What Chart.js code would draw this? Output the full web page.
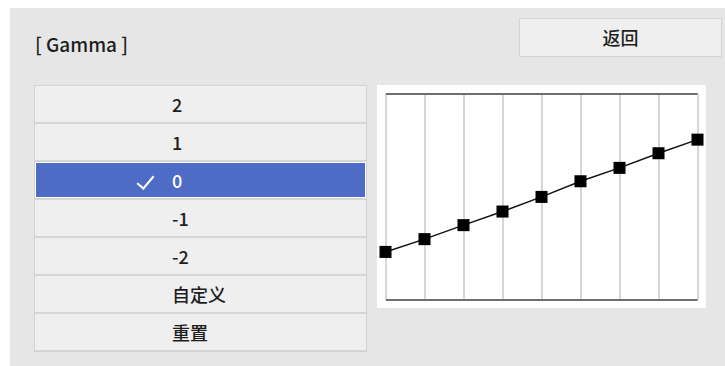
<!DOCTYPE html>
<html>
<head>
<meta charset="utf-8">
<script src="https://cdn.jsdelivr.net/npm/chart.js@4"></script>
<style>
  body { margin: 0; width: 725px; height: 366px; background: #fff; overflow: hidden;
         font-family: "Noto Sans CJK SC", "Noto Sans", sans-serif; color: #1e1e1e; }
  #panel { position: absolute; left: 10px; top: 8px; width: 715px; height: 358px; background: #e6e6e6; }
  #title { position: absolute; left: 35px; top: 31px; font-size: 19px; line-height: 26px; font-weight: 500; }
  #back { position: absolute; left: 519px; top: 18px; width: 201px; height: 37px; background: #efefef;
          border: 1px solid #d4d4d4; font-size: 18px; line-height: 37px; text-align: center; font-weight: 500; }
  #list { position: absolute; left: 34px; top: 85px; width: 331px; height: 265px; background: #d6d6d6;
          border: 1px solid #d2d2d2; }
  .row { position: absolute; left: 0; width: 331px; height: 36px; background: #efefef;
         font-size: 18px; line-height: 36px; font-weight: 500; }
  .row span { position: absolute; left: 137px; }
  .row.sel { background: #4e6bc6; color: #fff; box-shadow: inset 0 0 0 1px #fff; }
  .check { position: absolute; left: 106px; top: 10px; width: 7px; height: 15px;
           border-right: 2px solid #fff; border-bottom: 2px solid #fff; transform: rotate(40deg); }
  #box { position: absolute; left: 377px; top: 85px; width: 329px; height: 223px; background: #fff; }
</style>
</head>
<body>
<div id="panel"></div>
<div id="title">[ Gamma ]</div>
<div id="back">返回</div>
<div id="list"></div>
<div id="box"><canvas id="gammaChart" width="329" height="223"></canvas></div>
<script>
// menu entries, the selected one is "0"
var menuItems = ['2', '1', '0', '-1', '-2', '自定义', '重置'];
var selectedItem = '0';

// gamma curve points (0..100 scale)
var steps = [0, 1, 2, 3, 4, 5, 6, 7, 8];
var levels = [23.1, 29.3, 36.1, 42.7, 49.8, 57.4, 63.9, 71.0, 77.6];

var list = document.getElementById('list');
menuItems.forEach(function(item, i) {
    var row = document.createElement('div');
    row.className = 'row' + (item === selectedItem ? ' sel' : '');
    row.style.top = (i * 38) + 'px';
    if (item === selectedItem) {
        var c = document.createElement('div');
        c.className = 'check';
        row.appendChild(c);
    }
    var s = document.createElement('span');
    s.textContent = item;
    row.appendChild(s);
    list.appendChild(row);
});

var points = steps.map(function(s, i) { return { x: s, y: levels[i] }; });

var ctx = document.getElementById('gammaChart').getContext('2d');
new Chart(ctx, {
    type: 'line',
    data: {
        datasets: [{
            data: points,
            borderColor: '#111',
            borderWidth: 1.5,
            pointStyle: 'rect',
            pointRadius: 8.5,
            pointBackgroundColor: '#000',
            pointBorderColor: '#000',
            pointBorderWidth: 0,
            clip: false
        }]
    },
    options: {
        responsive: false,
        animation: false,
        layout: { padding: { left: 6, top: 6, right: 5, bottom: 6 } },
        plugins: { legend: { display: false }, tooltip: { enabled: false } },
        scales: {
            x: {
                type: 'linear', min: 0, max: 8,
                ticks: { display: false, stepSize: 1 },
                grid: { color: '#d6d6d6', lineWidth: 2, drawTicks: false },
                border: { display: false }
            },
            y: {
                min: 0, max: 100,
                ticks: { display: false, stepSize: 100 },
                grid: { color: '#6e6e6e', lineWidth: 2, drawTicks: false },
                border: { display: false }
            }
        }
    }
});
</script>
</body>
</html>
